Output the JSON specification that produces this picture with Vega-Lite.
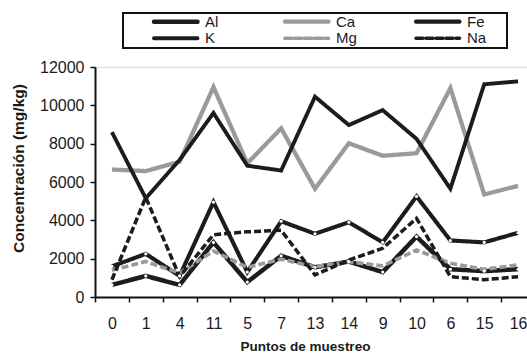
{
  "$schema": "https://vega.github.io/schema/vega-lite/v6.json",
  "autosize": "none",
  "width": 432,
  "height": 230,
  "padding": {"left": 95, "top": 67, "right": 0, "bottom": 59},
  "background": "white",
  "data": {
    "values": [
      {"punto": "0", "elemento": "Al", "valor": 630},
      {"punto": "1", "elemento": "Al", "valor": 1100},
      {"punto": "4", "elemento": "Al", "valor": 630},
      {"punto": "11", "elemento": "Al", "valor": 2850},
      {"punto": "5", "elemento": "Al", "valor": 780},
      {"punto": "7", "elemento": "Al", "valor": 2150},
      {"punto": "13", "elemento": "Al", "valor": 1550},
      {"punto": "14", "elemento": "Al", "valor": 1850},
      {"punto": "9", "elemento": "Al", "valor": 1300},
      {"punto": "10", "elemento": "Al", "valor": 3150},
      {"punto": "6", "elemento": "Al", "valor": 1450},
      {"punto": "15", "elemento": "Al", "valor": 1350},
      {"punto": "16", "elemento": "Al", "valor": 1450},
      {"punto": "0", "elemento": "Ca", "valor": 6650},
      {"punto": "1", "elemento": "Ca", "valor": 6570},
      {"punto": "4", "elemento": "Ca", "valor": 7060},
      {"punto": "11", "elemento": "Ca", "valor": 10950},
      {"punto": "5", "elemento": "Ca", "valor": 6970},
      {"punto": "7", "elemento": "Ca", "valor": 8800},
      {"punto": "13", "elemento": "Ca", "valor": 5650},
      {"punto": "14", "elemento": "Ca", "valor": 8020},
      {"punto": "9", "elemento": "Ca", "valor": 7370},
      {"punto": "10", "elemento": "Ca", "valor": 7500},
      {"punto": "6", "elemento": "Ca", "valor": 10900},
      {"punto": "15", "elemento": "Ca", "valor": 5350},
      {"punto": "16", "elemento": "Ca", "valor": 5800},
      {"punto": "0", "elemento": "Fe", "valor": 1600},
      {"punto": "1", "elemento": "Fe", "valor": 2250},
      {"punto": "4", "elemento": "Fe", "valor": 1100},
      {"punto": "11", "elemento": "Fe", "valor": 4950},
      {"punto": "5", "elemento": "Fe", "valor": 1300},
      {"punto": "7", "elemento": "Fe", "valor": 3950},
      {"punto": "13", "elemento": "Fe", "valor": 3300},
      {"punto": "14", "elemento": "Fe", "valor": 3900},
      {"punto": "9", "elemento": "Fe", "valor": 2850},
      {"punto": "10", "elemento": "Fe", "valor": 5250},
      {"punto": "6", "elemento": "Fe", "valor": 2950},
      {"punto": "15", "elemento": "Fe", "valor": 2850},
      {"punto": "16", "elemento": "Fe", "valor": 3350},
      {"punto": "0", "elemento": "K", "valor": 8600},
      {"punto": "1", "elemento": "K", "valor": 5150},
      {"punto": "4", "elemento": "K", "valor": 7150},
      {"punto": "11", "elemento": "K", "valor": 9600},
      {"punto": "5", "elemento": "K", "valor": 6850},
      {"punto": "7", "elemento": "K", "valor": 6600},
      {"punto": "13", "elemento": "K", "valor": 10450},
      {"punto": "14", "elemento": "K", "valor": 8970},
      {"punto": "9", "elemento": "K", "valor": 9750},
      {"punto": "10", "elemento": "K", "valor": 8250},
      {"punto": "6", "elemento": "K", "valor": 5650},
      {"punto": "15", "elemento": "K", "valor": 11100},
      {"punto": "16", "elemento": "K", "valor": 11250},
      {"punto": "0", "elemento": "Mg", "valor": 1400},
      {"punto": "1", "elemento": "Mg", "valor": 1850},
      {"punto": "4", "elemento": "Mg", "valor": 1250},
      {"punto": "11", "elemento": "Mg", "valor": 2400},
      {"punto": "5", "elemento": "Mg", "valor": 1550},
      {"punto": "7", "elemento": "Mg", "valor": 1970},
      {"punto": "13", "elemento": "Mg", "valor": 1580},
      {"punto": "14", "elemento": "Mg", "valor": 1840},
      {"punto": "9", "elemento": "Mg", "valor": 1620},
      {"punto": "10", "elemento": "Mg", "valor": 2450},
      {"punto": "6", "elemento": "Mg", "valor": 1760},
      {"punto": "15", "elemento": "Mg", "valor": 1440},
      {"punto": "16", "elemento": "Mg", "valor": 1670},
      {"punto": "0", "elemento": "Na", "valor": 900},
      {"punto": "1", "elemento": "Na", "valor": 5200},
      {"punto": "4", "elemento": "Na", "valor": 1060},
      {"punto": "11", "elemento": "Na", "valor": 3250},
      {"punto": "5", "elemento": "Na", "valor": 3400},
      {"punto": "7", "elemento": "Na", "valor": 3480},
      {"punto": "13", "elemento": "Na", "valor": 1150},
      {"punto": "14", "elemento": "Na", "valor": 1930},
      {"punto": "9", "elemento": "Na", "valor": 2540},
      {"punto": "10", "elemento": "Na", "valor": 4100},
      {"punto": "6", "elemento": "Na", "valor": 1060},
      {"punto": "15", "elemento": "Na", "valor": 900},
      {"punto": "16", "elemento": "Na", "valor": 1060}
    ]
  },
  "encoding": {
    "x": {
      "field": "punto",
      "type": "ordinal",
      "sort": null,
      "bandPosition": 0.5,
      "scale": {"type": "band", "range": [0, 440], "paddingInner": 0, "paddingOuter": 0},
      "axis": {
        "title": "Puntos de muestreo",
        "labelAngle": 0,
        "tickBand": "extent",
        "labelPadding": 13,
        "titleFontSize": 13.5,
        "titleX": 210,
        "titleY": 53,
        "titleBaseline": "alphabetic"
      }
    },
    "y": {
      "field": "valor",
      "type": "quantitative",
      "scale": {"domain": [0, 12000], "nice": false},
      "axis": {
        "title": "Concentración (mg/kg)",
        "values": [0, 2000, 4000, 6000, 8000, 10000, 12000],
        "tickCount": 7,
        "format": "d",
        "labelOverlap": false,
        "labelPadding": 6,
        "grid": true,
        "gridWidth": 1.5,
        "gridColor": {"condition": {"test": "datum.value === 12000", "value": "#e2e2e2"}, "value": "transparent"},
        "titleFontSize": 15.5,
        "titleX": -77,
        "titleY": 101,
        "titleAlign": "center",
        "titleBaseline": "middle"
      }
    }
  },
  "layer": [
    {
      "mark": {"type": "line", "strokeJoin": "miter"},
      "encoding": {
        "color": {
          "field": "elemento",
          "type": "nominal",
          "scale": {
            "domain": ["Al", "Ca", "Fe", "K", "Mg", "Na"],
            "range": ["#1c1c1c", "#9a9a9a", "#1c1c1c", "#1c1c1c", "#9a9a9a", "#1c1c1c"]
          },
          "legend": {
            "title": "\u00a0",
            "encode": {"symbols": {"update": {"strokeCap": {"value": "round"}}}}
          }
        },
        "strokeDash": {
          "field": "elemento",
          "type": "nominal",
          "scale": {
            "domain": ["Al", "Ca", "Fe", "K", "Mg", "Na"],
            "range": [[1, 0], [1, 0], [1, 0], [1, 0], [7, 3], [7, 3]]
          },
          "legend": {"title": "\u00a0"}
        },
        "strokeWidth": {
          "field": "elemento",
          "type": "nominal",
          "scale": {
            "domain": ["Al", "Ca", "Fe", "K", "Mg", "Na"],
            "range": [4.5, 3.5, 4.5, 3.5, 4, 4]
          },
          "legend": {"title": "\u00a0"}
        },
        "order": {"value": null}
      }
    },
    {
      "transform": [{"filter": "datum.elemento === 'Al' || datum.elemento === 'Fe'"}],
      "mark": {"type": "point", "filled": true, "fill": "white", "opacity": 1, "size": 10, "strokeWidth": 0}
    }
  ],
  "config": {
    "view": {"stroke": null},
    "font": "Liberation Sans",
    "axis": {
      "domainColor": "#111111",
      "domainWidth": 2,
      "tickColor": "#111111",
      "tickWidth": 1.5,
      "tickSize": 5,
      "labelFont": "Liberation Sans",
      "labelFontSize": 16,
      "labelColor": "#1a1a1a",
      "titleFont": "Liberation Sans",
      "titleFontWeight": "bold",
      "titleColor": "#1a1a1a"
    },
    "axisX": {"grid": false},
    "legend": {
      "orient": "none",
      "legendX": 28,
      "legendY": -54,
      "direction": "horizontal",
      "columns": 3,
      "gridAlign": "all",
      "columnPadding": 29,
      "rowPadding": 1,
      "padding": 1,
      "strokeColor": "#111111",
      "strokeWidth": 2,
      "titleOrient": "right",
      "titlePadding": 20,
      "titleFont": "Liberation Sans",
      "titleFontSize": 15,
      "clipHeight": 14.5,
      "symbolType": "M-0.245,0H0.939",
      "symbolSize": 5402,
      "labelOffset": 3,
      "labelFont": "Liberation Sans",
      "labelFontSize": 15,
      "labelColor": "#1a1a1a"
    }
  }
}
